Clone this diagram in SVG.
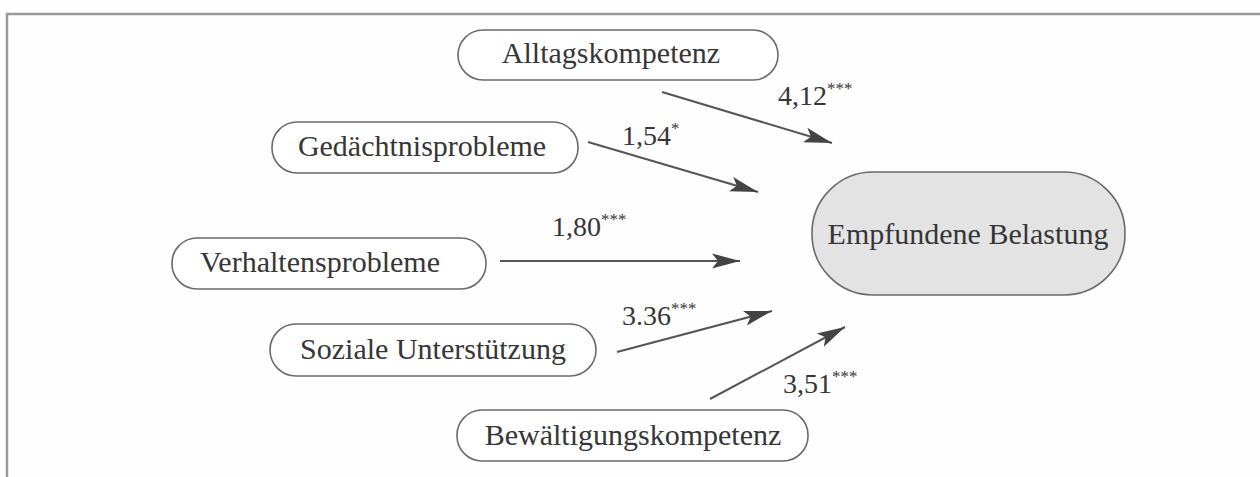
<svg xmlns="http://www.w3.org/2000/svg" width="1260" height="477" viewBox="0 0 1260 477">
<style>
.pill{fill:#fff;stroke:#6a6a6a;stroke-width:1.6}
.main{fill:#e3e3e3;stroke:#6a6a6a;stroke-width:1.6}
.t{font-family:"Liberation Serif",serif;font-size:30px;fill:#363636;text-anchor:middle}
.lbl{font-family:"Liberation Serif",serif;font-size:28px;fill:#363636}
.sup{font-size:17px}
.c{stroke:#555;stroke-width:2;fill:none;marker-end:url(#ah)}
.frame{stroke:#9a9a9a;stroke-width:2.5;fill:none}
</style>
<defs>
<marker id="ah" markerWidth="30" markerHeight="18" refX="28" refY="9" orient="auto" markerUnits="userSpaceOnUse">
<path d="M0,1.5 L28,9 L0,16.5 L6,9 Z" fill="#444"/>
</marker>
</defs>
<rect width="1260" height="477" fill="#fefefe"/>
<path class="frame" d="M7,477 L7,14 L1260,14"/>
<g id="n-alltag"><rect class="pill" x="458" y="30" width="320" height="50" rx="25"/><text class="t" x="611" y="63">Alltagskompetenz</text></g>
<g id="n-gedaechtnis"><rect class="pill" x="272" y="122" width="306" height="51" rx="25"/><text class="t" x="422" y="156">Gedächtnisprobleme</text></g>
<g id="n-verhalten"><rect class="pill" x="172" y="238" width="314" height="51" rx="25"/><text class="t" x="320" y="272">Verhaltensprobleme</text></g>
<g id="n-sozial"><rect class="pill" x="270" y="324" width="326" height="52" rx="26"/><text class="t" x="433" y="359">Soziale Unterstützung</text></g>
<g id="n-bewaelt"><rect class="pill" x="457" y="410" width="351" height="51" rx="25"/><text class="t" x="633" y="445">Bewältigungskompetenz</text></g>
<g id="n-belastung"><rect class="main" x="812" y="172" width="313" height="123" rx="61"/><text class="t" x="968" y="244">Empfundene Belastung</text></g>
<g id="connectors">
<line class="c" x1="662" y1="92" x2="832" y2="143"/>
<line class="c" x1="588" y1="142" x2="758" y2="192"/>
<line class="c" x1="500" y1="261" x2="740" y2="261"/>
<line class="c" x1="617" y1="352" x2="772" y2="311"/>
<line class="c" x1="710" y1="399" x2="845" y2="327"/>
<text class="lbl" x="778" y="105">4,12<tspan class="sup" dy="-11">***</tspan></text>
<text class="lbl" x="622" y="145">1,54<tspan class="sup" dy="-11">*</tspan></text>
<text class="lbl" x="552" y="236">1,80<tspan class="sup" dy="-11">***</tspan></text>
<text class="lbl" x="622" y="325">3.36<tspan class="sup" dy="-11">***</tspan></text>
<text class="lbl" x="783" y="393">3,51<tspan class="sup" dy="-11">***</tspan></text>
</g>
</svg>
